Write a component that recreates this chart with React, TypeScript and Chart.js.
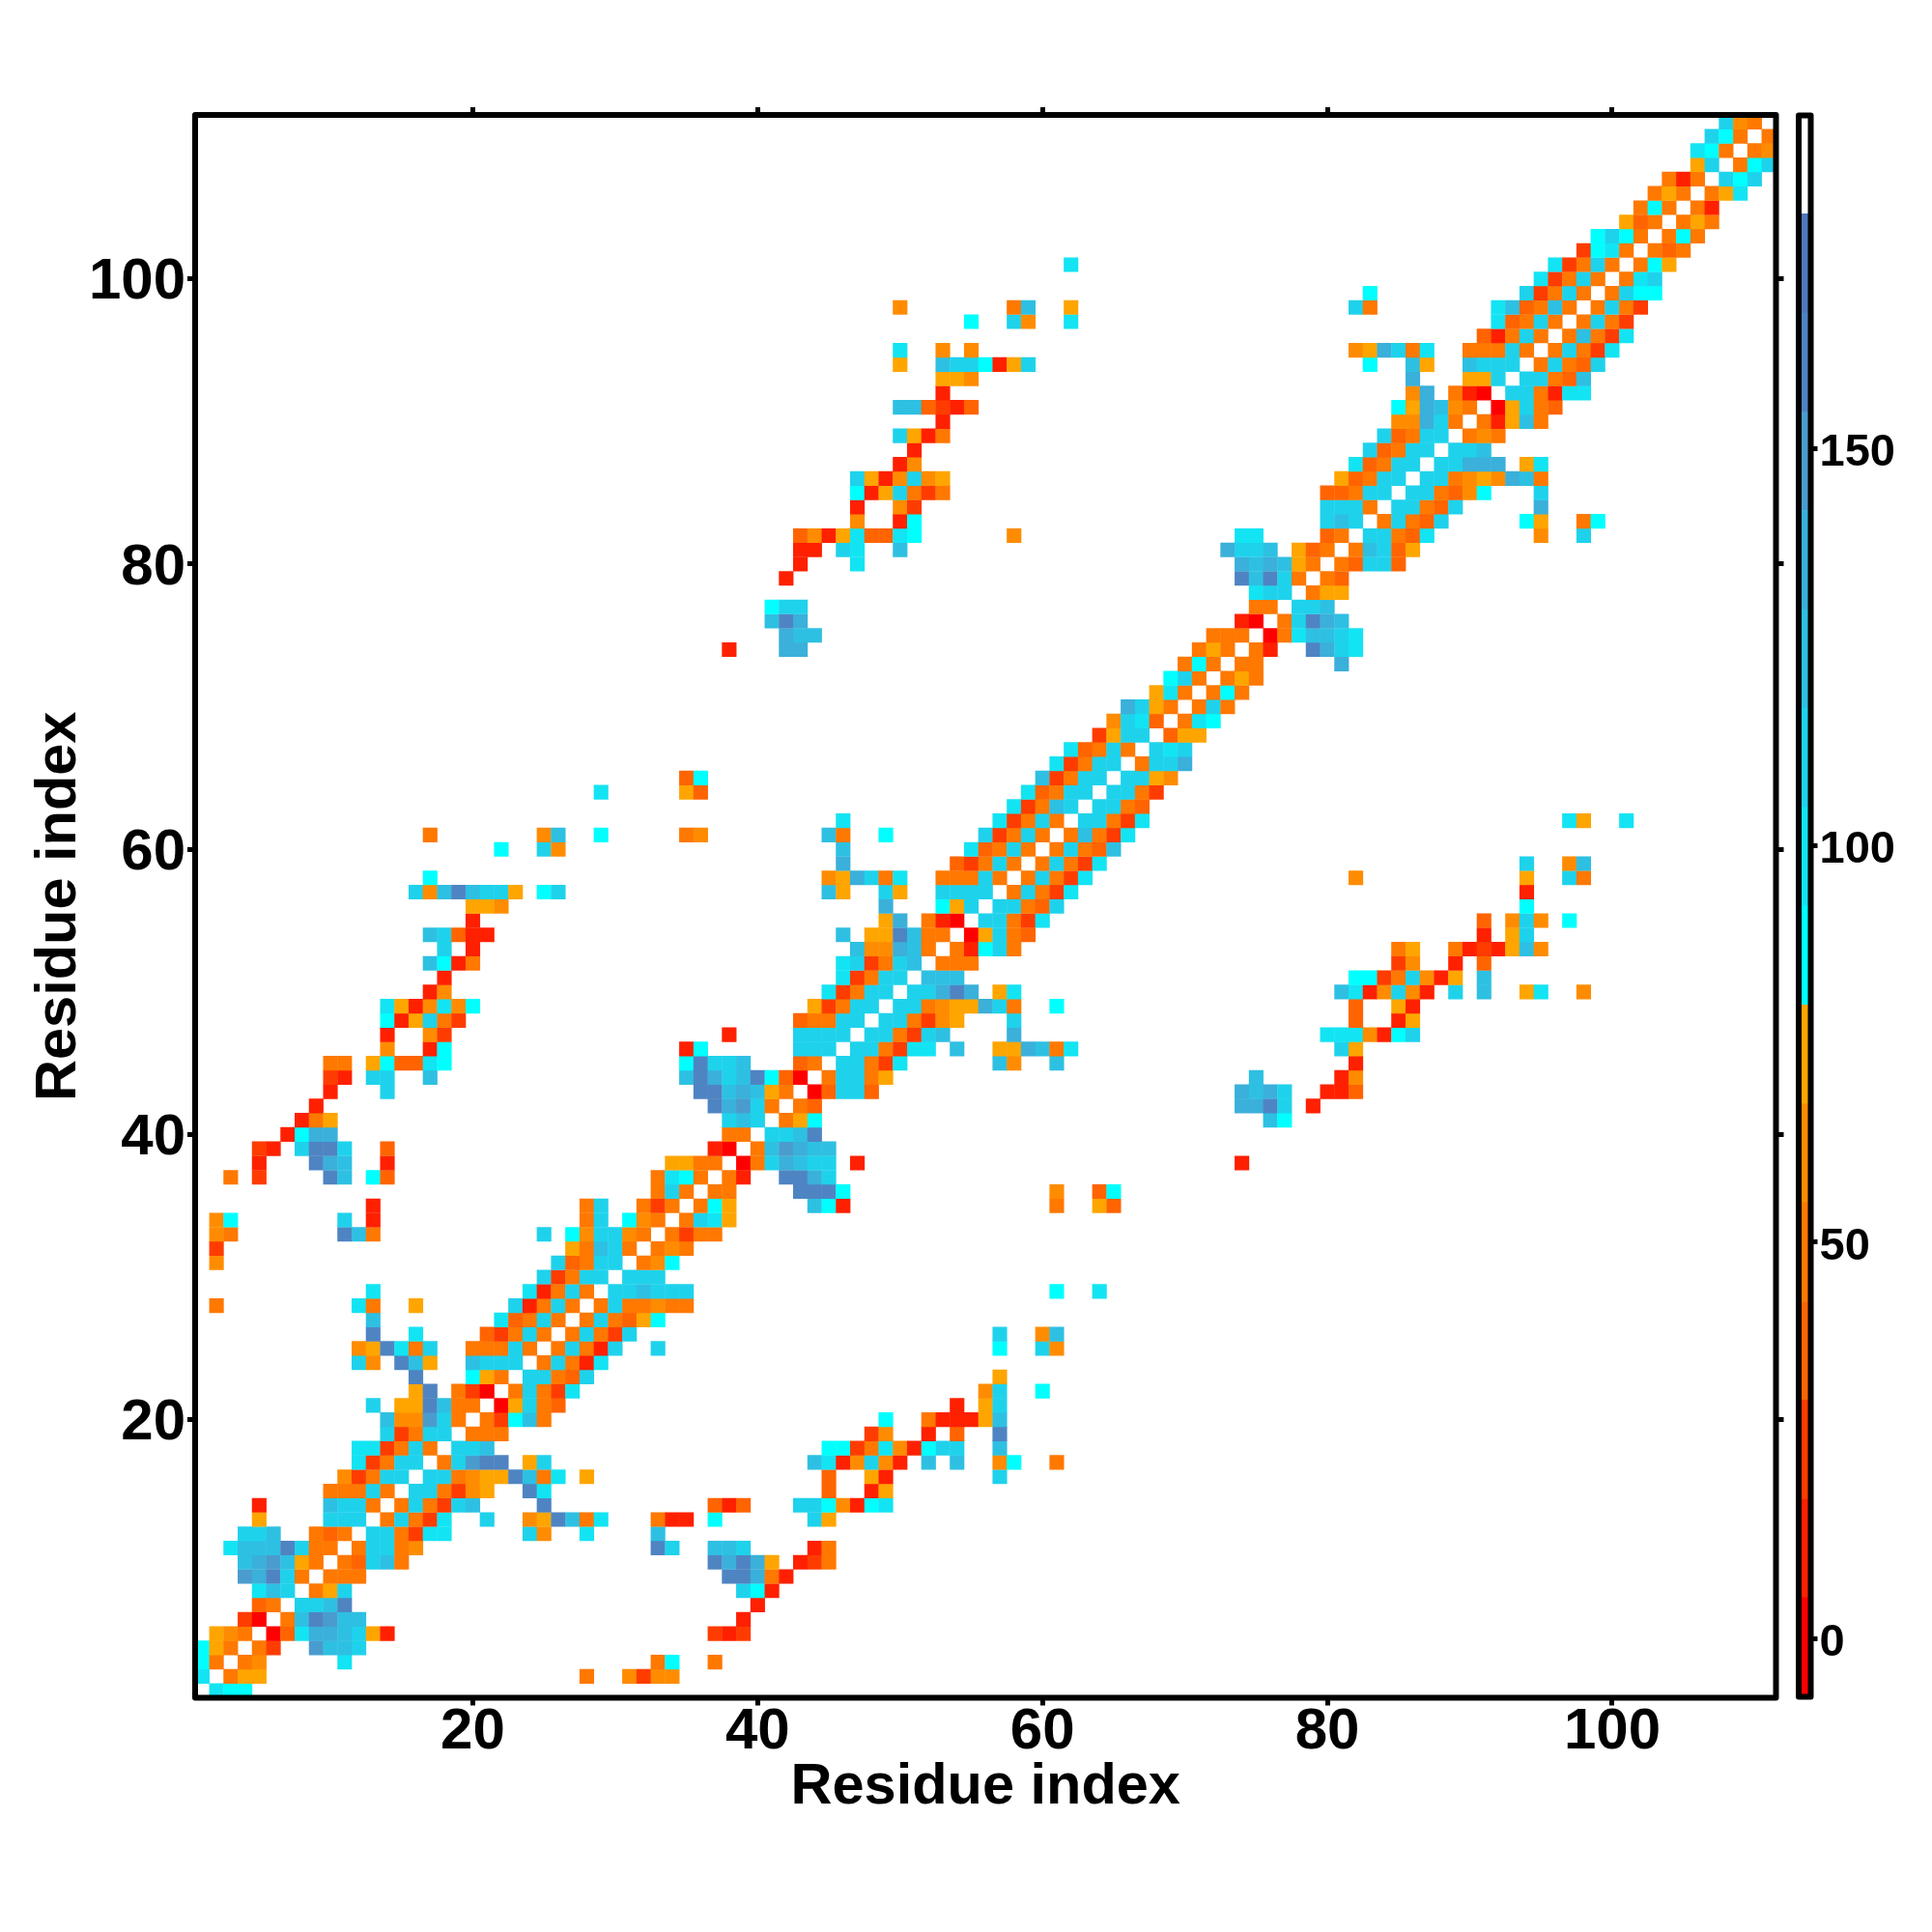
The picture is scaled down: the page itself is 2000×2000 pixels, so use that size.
import React, { useEffect, useRef } from "react";
import Chart from "chart.js/auto";

// colour bar bins, bottom to top (last bin is white)
const bandEdges = [-7.3, 5.2, 17.6, 30.1, 42.5, 55, 67.4, 79.9, 92.4, 104.8, 117.3, 129.7, 142.2, 154.6, 167.1, 179.6, 192];
const bandColors = [
  "#ff0000", "#ff2000", "#ff3c00", "#ff6400", "#ff7800", "#ff8c00", "#ffa500",
  "#00ffff", "#13e4f3", "#1fd2ec", "#2ec0e2", "#3ab0da", "#4a9cce", "#4f84c2", "#5078bc",
  "#ffffff",
];
const bandCodes = "abcdefghijklmno";

const tickValues = [20, 40, 60, 80, 100];
const colorbarTicks = [0, 50, 100, 150];
const axisTitle = "Residue index";

// upper triangle of the symmetric map: index i is residue i+1, "start:codes" gives
// the bins for residues start, start+1, ... ("." = no cell)
const contacts = [
  "2:ihh",
  "3:egg 28:e 31:fcff",
  "4:ef 11:i 33:eh 37:e",
  "5:ec 9:mkkj",
  "6:adillkjgb 37:cbc",
  "7:eknmkk 39:b",
  "8:jjkn 40:b",
  "9:egj 39:jhb",
  "10:eee 38:nnleb",
  "11:edjke 37:nlnlg.bce",
  "12:ejjef 33:nj 37:kkj 44:be",
  "13:jjecii 24:jf 28:i 33:k",
  "14:ejeci..j..fgnkei 33:ebb.h 44:jg",
  "15:ejecjk 25:n 37:dbd 43:jjhfbhi",
  "16:jjecfg 24:ni 45:d 48:bg",
  "17:jjefggnkei.g 45:d 48:gb 57:j",
  "18:ejmnn.gj 44:kibfjfb.k.k..fh..e",
  "19:jjk 45:hhceifbhjj..k",
  "20:eee 48:cf..b.d..n",
  "21:echke 49:h..ebbbgk",
  "22:agjed 54:b.gj",
  "23:ejeci 56:fj..h",
  "24:jjedj 57:g",
  "25:ejebi",
  "26:ejebj..j 57:h..jf",
  "27:ejecj 57:j..fk",
  "28:ejedgh",
  "29:ejeefee",
  "30:jjkjjj 61:h..i",
  "31:jjj",
  "32:efh",
  "33:efe",
  "34:ecee",
  "35:ejig",
  "36:ehg 44:khb 61:e..gd",
  "37:ee 43:nnnh 61:f..dh",
  "38:eb 42:nnlj",
  "39:aejlkjj.b 74:b",
  "40:ekmlkk",
  "41:jjkn",
  "42:egh 76:kh",
  "43:ed 74:llnj.b",
  "44:adjjd 74:lklj..bbd",
  "45:ejjeg 75:k 81:bf",
  "46:jjeci 57:kf..k 82:b",
  "47:jjecii.k..gglkei 81:jg",
  "48:jjecjk 58:l 80:iiifbhj",
  "49:jjecfg 58:j 82:d..bg",
  "50:jjefgglje..h 82:d..gb",
  "51:jjlnl.gi 81:kibfjfb.j.k..gi..f",
  "52:kkk 82:hhcejfbg.k",
  "53:eee 85:cf..b.d",
  "54:ebhje 85:eg..ebcbgkf",
  "55:agjed 91:b.gj",
  "56:jjeci 91:d.fjf.h",
  "57:jjedj 94:h",
  "58:ejeci 94:b",
  "59:ejeci 82:f 94:g..je",
  "60:ejeci 94:j..fk",
  "61:ejedk",
  "62:ekeci",
  "63:jjeci 97:ig..i",
  "64:jjed",
  "65:jjec",
  "66:jjgf",
  "67:ejjl",
  "68:jij",
  "69:dgg",
  "70:eih",
  "71:eje",
  "72:ehe",
  "73:ege",
  "74:ee 81:l",
  "75:eb..nlji",
  "76:aeikkji",
  "77:ejnlk",
  "78:jjk",
  "79:egg",
  "80:ed",
  "81:edjjd",
  "82:ekjdg",
  "83:jjedi 95:f..j",
  "84:ejedj 94:hg..eh",
  "85:jjedj 95:l",
  "86:jjedfh 95:j",
  "87:jjefgflke",
  "88:jjlll.gi",
  "89:jjk",
  "90:efe",
  "91:ebgke",
  "92:agjed",
  "93:jjebii",
  "94:jjedk",
  "95:ejedj",
  "96:ejeci",
  "97:ekeci",
  "98:ejec",
  "99:ejec",
  "100:ejhh",
  "101:eij",
  "102:ehg",
  "103:ede",
  "104:ehe",
  "105:ege",
  "106:eb",
  "107:egi",
  "108:jhj",
  "109:ehj",
  "110:ef",
  "111:e",
];

const FONT = "'Liberation Sans', Arial, sans-serif";

function buildCells() {
  const cells: { x: number; y: number; v: number }[] = [];
  contacts.forEach((row, i) => {
    const residue = i + 1;
    row.split(" ").forEach((seg) => {
      const [start, codes] = seg.split(":");
      [...codes].forEach((code, k) => {
        if (code === ".") return;
        const band = bandCodes.indexOf(code);
        const v = (bandEdges[band] + bandEdges[band + 1]) / 2;
        const other = Number(start) + k;
        cells.push({ x: other, y: residue, v });
        cells.push({ x: residue, y: other, v });
      });
    });
  });
  return cells;
}

function colorFor(v: number) {
  const i = bandEdges.findIndex((e, k) => v >= e && v < bandEdges[k + 1]);
  return bandColors[i];
}

// black box around the plot area, drawn over the cells
const framePlugin = {
  id: "frame",
  afterDatasetsDraw(chart: any) {
    const { left, top, width, height } = chart.chartArea;
    const ctx = chart.ctx;
    ctx.save();
    ctx.strokeStyle = "#000";
    ctx.lineWidth = 6;
    ctx.lineJoin = "round";
    ctx.strokeRect(left, top, width, height);
    ctx.restore();
  },
};

const useTicks = (values: number[]) => (scale: any) => {
  scale.ticks = values.map((value) => ({ value }));
};

const tickGrid = (tickLength: number) => ({
  display: true,
  drawOnChartArea: false,
  drawTicks: true,
  tickLength,
  tickWidth: 5,
  tickColor: "#000",
});

export default function App() {
  const mainRef = useRef<HTMLCanvasElement>(null);
  const barRef = useRef<HTMLCanvasElement>(null);

  useEffect(() => {
    if (!mainRef.current || !barRef.current) return;

    const labelFont = { family: FONT, size: 60, weight: "bold" as const };
    const titleFont = { family: FONT, size: 59.5, weight: "bold" as const };
    const range = { type: "linear" as const, min: 0.5, max: 111.5 };

    const main = new Chart(mainRef.current, {
      type: "scatter",
      data: {
        datasets: [
          {
            data: buildCells(),
            pointStyle: "rect",
            borderWidth: 0,
            pointBorderWidth: 0,
            pointBackgroundColor: (ctx: any) => colorFor(ctx.raw.v),
            pointRadius: (ctx: any) => {
              const s = ctx.chart.scales.x;
              return (s.getPixelForValue(1) - s.getPixelForValue(0) + 0.4) / Math.SQRT2;
            },
          } as any,
        ],
      },
      options: {
        responsive: false,
        animation: false,
        devicePixelRatio: 1,
        events: [],
        layout: { padding: { left: 26, top: 0, right: 0, bottom: 114 } },
        plugins: { legend: { display: false }, tooltip: { enabled: false } },
        scales: {
          x: {
            ...range,
            position: "bottom",
            afterBuildTicks: useTicks(tickValues),
            afterFit: (s: any) => { s.height = 128.5; },
            grid: tickGrid(8),
            border: { display: false },
            ticks: { font: labelFont, color: "#000", padding: -8, maxRotation: 0, autoSkip: false },
            title: { display: true, text: axisTitle, font: titleFont, color: "#000", padding: 0 },
          },
          y: {
            ...range,
            position: "left",
            afterBuildTicks: useTicks(tickValues),
            afterFit: (s: any) => { s.width = 176; },
            grid: tickGrid(8),
            border: { display: false },
            ticks: { font: labelFont, color: "#000", padding: 2, labelOffset: 4, autoSkip: false },
            title: { display: true, text: axisTitle, font: titleFont, color: "#000", padding: 0 },
          },
          x2: {
            ...range,
            axis: "x",
            position: "top",
            afterBuildTicks: useTicks(tickValues),
            afterFit: (s: any) => { s.height = 119; },
            grid: tickGrid(8),
            border: { display: false },
            ticks: { display: false },
          },
          y2: {
            ...range,
            axis: "y",
            position: "right",
            afterBuildTicks: useTicks(tickValues),
            afterFit: (s: any) => { s.width = 11.5; },
            grid: tickGrid(8),
            border: { display: false },
            ticks: { display: false },
          },
        } as any,
      },
      plugins: [framePlugin],
    });

    const bar = new Chart(barRef.current, {
      type: "bar",
      data: {
        labels: [""],
        datasets: bandColors.map((color, i) => ({
          data: [[bandEdges[i], bandEdges[i + 1]]],
          backgroundColor: color,
          borderWidth: 0,
          grouped: false,
          barPercentage: 1,
          categoryPercentage: 1,
        })) as any,
      },
      options: {
        responsive: false,
        animation: false,
        devicePixelRatio: 1,
        events: [],
        layout: { padding: { left: 12, top: 119.5, right: 0, bottom: 243.5 } },
        plugins: { legend: { display: false }, tooltip: { enabled: false } },
        scales: {
          x: { display: false },
          y: {
            type: "linear",
            position: "right",
            min: bandEdges[0],
            max: bandEdges[bandEdges.length - 1],
            afterBuildTicks: useTicks(colorbarTicks),
            afterFit: (s: any) => { s.width = 125.5; },
            grid: tickGrid(7),
            border: { display: false },
            ticks: {
              font: { family: FONT, size: 47, weight: "bold" },
              color: "#000",
              padding: 2,
              labelOffset: 5,
              autoSkip: false,
            },
          },
        } as any,
      },
      plugins: [framePlugin],
    });

    return () => {
      main.destroy();
      bar.destroy();
    };
  }, []);

  return (
    <div style={{ position: "absolute", left: 0, top: 0, width: 2000, height: 2000 }}>
      <canvas ref={mainRef} width={1850} height={2000} style={{ position: "absolute", left: 0, top: 0 }} />
      <canvas ref={barRef} width={150} height={2000} style={{ position: "absolute", left: 1850, top: 0 }} />
    </div>
  );
}
